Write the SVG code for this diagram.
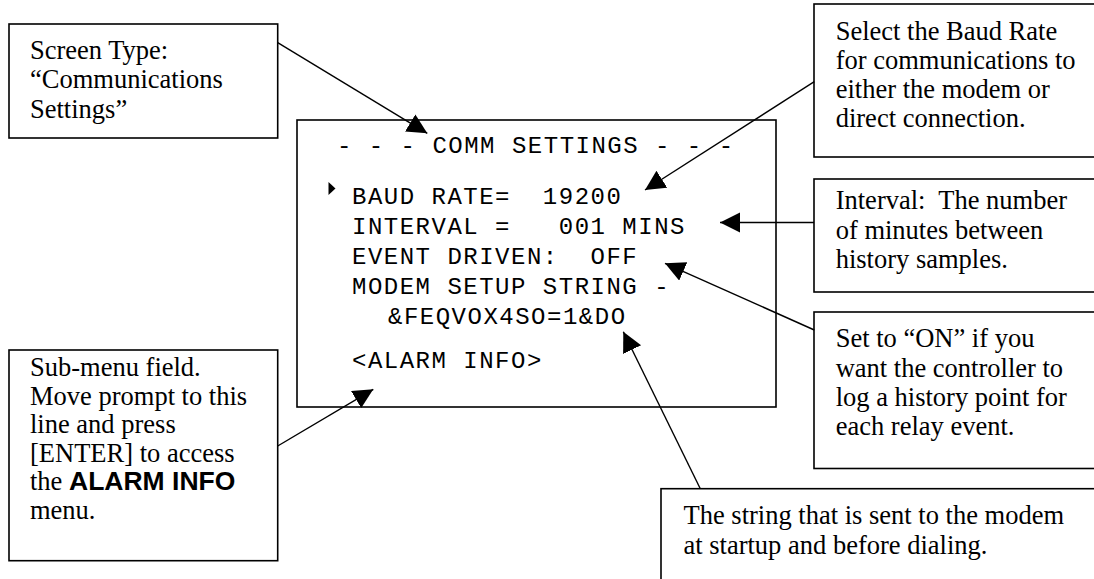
<svg xmlns="http://www.w3.org/2000/svg" width="1094" height="579" viewBox="0 0 1094 579">
<style>
.box{fill:#fff;stroke:#000;stroke-width:1.6}
.serif{font-family:"Liberation Serif","Times New Roman",serif;font-size:26.5px;fill:#000;white-space:pre}
.bold{font-family:"Liberation Sans",Arial,sans-serif;font-weight:bold}
.mono{font-family:"Liberation Mono","Courier New",monospace;font-size:24px;letter-spacing:1.5px;fill:#000;white-space:pre}
.conn{stroke:#000;stroke-width:1.4;fill:none;marker-end:url(#arrow)}
</style>
<defs>
<marker id="arrow" markerUnits="userSpaceOnUse" markerWidth="21" markerHeight="21" refX="20" refY="10" orient="auto">
<path d="M0,0 L20,10 L0,20 z" fill="#000"/>
</marker>
</defs>
<rect width="1094" height="579" fill="#fff"/>

<g id="screen">
<rect class="box" x="297" y="120" width="479" height="287"/>
<polygon points="328.5,182 335.5,188.5 328.5,195" fill="#000"/>
<text class="mono" xml:space="preserve" x="337" y="153">- - - COMM SETTINGS - - -</text>
<text class="mono" xml:space="preserve" x="352" y="204">BAUD RATE=  19200</text>
<text class="mono" xml:space="preserve" x="352" y="234">INTERVAL =   001 MINS</text>
<text class="mono" xml:space="preserve" x="352" y="264">EVENT DRIVEN:  OFF</text>
<text class="mono" xml:space="preserve" x="352" y="294">MODEM SETUP STRING -</text>
<text class="mono" xml:space="preserve" x="388" y="324">&amp;FEQVOX4SO=1&amp;DO</text>
<text class="mono" xml:space="preserve" x="352" y="368">&lt;ALARM INFO&gt;</text>
</g>

<g id="screen-type">
<rect class="box" x="9" y="24" width="268.7" height="114"/>
<text class="serif" x="30" y="58.5">Screen Type:</text>
<text class="serif" x="30" y="88">“Communications</text>
<text class="serif" x="30" y="117.5">Settings”</text>
</g>

<g id="sub-menu">
<rect class="box" x="9" y="350" width="268.7" height="210.7"/>
<text class="serif" x="30" y="376">Sub-menu field.</text>
<text class="serif" x="30" y="404.5">Move prompt to this</text>
<text class="serif" x="30" y="433">line and press</text>
<text class="serif" x="30" y="461.5">[ENTER] to access</text>
<text class="serif" x="30" y="490">the <tspan class="bold">ALARM INFO</tspan></text>
<text class="serif" x="30" y="518.5">menu.</text>
</g>

<g id="baud">
<rect class="box" x="814" y="4" width="300" height="153"/>
<text class="serif" x="835.7" y="39.5">Select the Baud Rate</text>
<text class="serif" x="835.7" y="68.8">for communications to</text>
<text class="serif" x="835.7" y="98.1">either the modem or</text>
<text class="serif" x="835.7" y="127.4">direct connection.</text>
</g>

<g id="interval">
<rect class="box" x="814" y="179" width="300" height="113"/>
<text class="serif" xml:space="preserve" x="835.7" y="209">Interval:  The number</text>
<text class="serif" x="835.7" y="238.5">of minutes between</text>
<text class="serif" x="835.7" y="268">history samples.</text>
</g>

<g id="event">
<rect class="box" x="814" y="312" width="300" height="156.5"/>
<text class="serif" x="835.7" y="347">Set to “ON” if you</text>
<text class="serif" x="835.7" y="376.5">want the controller to</text>
<text class="serif" x="835.7" y="406">log a history point for</text>
<text class="serif" x="835.7" y="434.5">each relay event.</text>
</g>

<g id="modem-string">
<rect class="box" x="661" y="488.7" width="460" height="120"/>
<text class="serif" x="683.5" y="524">The string that is sent to the modem</text>
<text class="serif" x="683.5" y="554">at startup and before dialing.</text>
</g>

<g id="connectors">
<line class="conn" x1="277.7" y1="42.7" x2="427.3" y2="133.3"/>
<line class="conn" x1="814.3" y1="81.7" x2="645" y2="190"/>
<line class="conn" x1="814" y1="222.5" x2="720" y2="222.5"/>
<line class="conn" x1="814.3" y1="330" x2="665" y2="263.3"/>
<line class="conn" x1="700.3" y1="488.7" x2="623.3" y2="331.7"/>
<line class="conn" x1="277.7" y1="446" x2="373.3" y2="389.3"/>
</g>
</svg>
